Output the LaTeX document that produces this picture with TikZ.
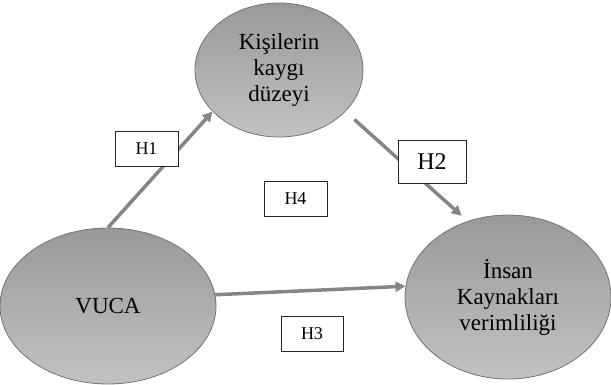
\documentclass[tikz,border=0pt]{standalone}
\usepackage{fontspec}
\setmainfont{Liberation Serif}
\usetikzlibrary{shapes.geometric,arrows.meta}

\begin{document}
\begin{tikzpicture}[x=1pt,y=-1pt,
    oval/.style={ellipse,draw=black!55,line width=0.8pt,top color=black!40,bottom color=black!24,
        align=center,inner sep=0pt,font=\fontsize{23}{26}\selectfont},
    hbox/.style={draw=black!85,line width=0.8pt,fill=white,minimum width=63pt,minimum height=35pt,
        font=\fontsize{18}{20}\selectfont},
    link/.style={-{Triangle[length=10pt,width=10pt]},line width=3.5pt,draw=black!48}]
    \useasboundingbox (0,0) rectangle (611,384);

    \node[oval,minimum width=168pt,minimum height=134pt](kaygi) at (279,70){Kişilerin\\kaygı\\düzeyi};
    \node[oval,minimum width=216pt,minimum height=156pt](vuca) at (108,306){VUCA};
    \node[oval,minimum width=206pt,minimum height=164pt](ik) at (508,297){İnsan\\Kaynakları\\verimliliği};

    \draw[link](vuca.north)--(kaygi.212);
    \draw[link,shorten <=12pt,shorten >=8pt](kaygi.-32)--(ik.118);
    \draw[link](vuca.6)--(ik.174);

    \node[hbox](h1) at (146.5,148.5){H1};
    \node[hbox,minimum width=68pt,minimum height=43pt,font=\fontsize{24}{26}\selectfont](h2) at (432,161.5){H2};
    \node[hbox](h4) at (295.5,198.5){H4};
    \node[hbox,minimum width=62pt](h3) at (312,333.5){H3};
\end{tikzpicture}
\end{document}
